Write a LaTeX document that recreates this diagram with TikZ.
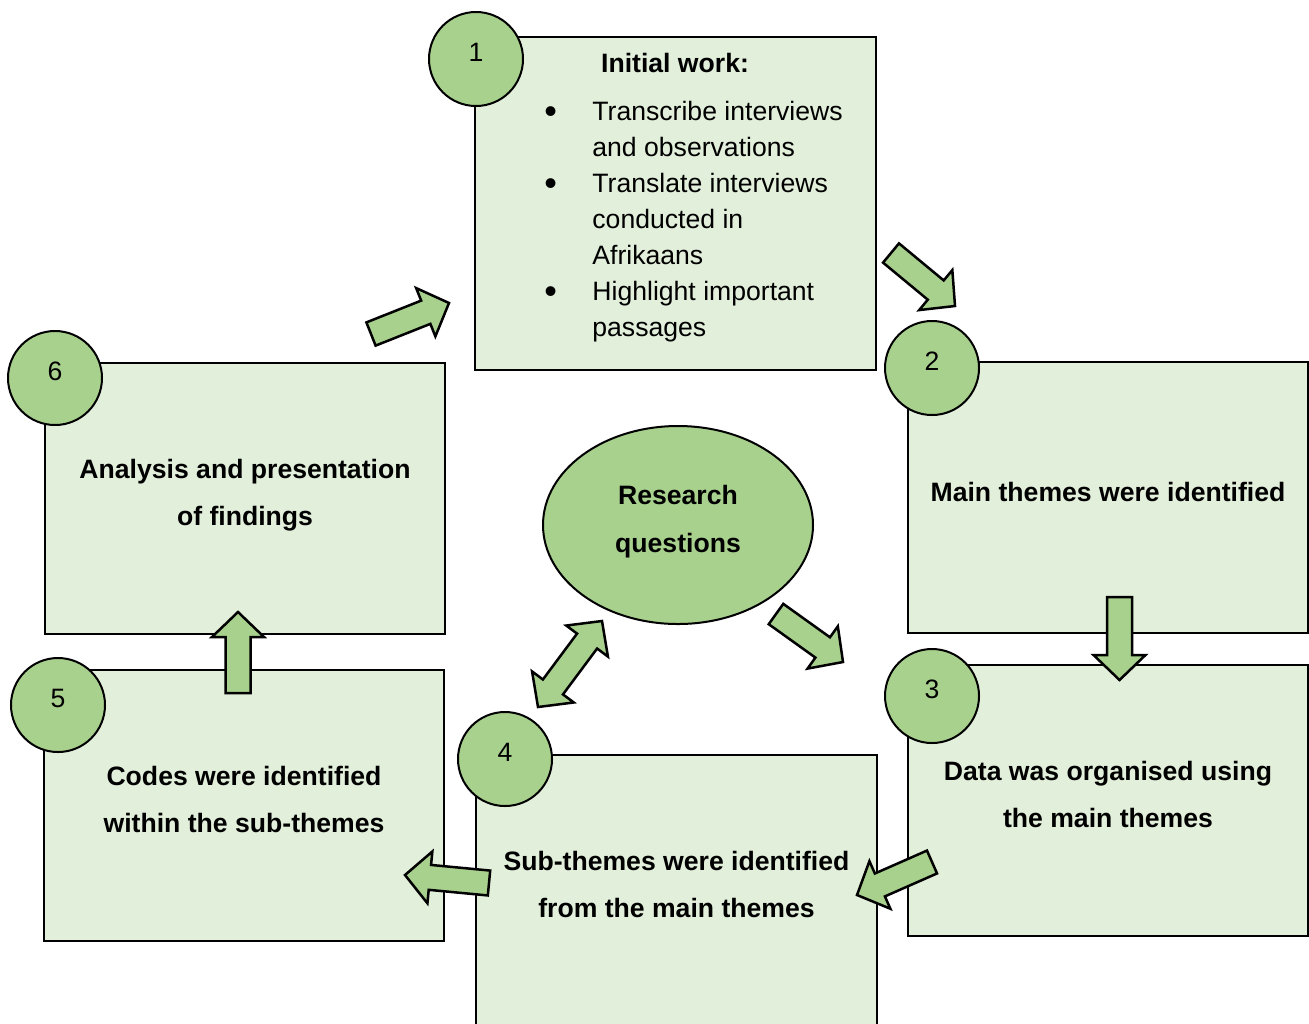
\documentclass[tikz,border=0pt]{standalone}
\usepackage{fontspec}
\setmainfont{Liberation Sans}
\usetikzlibrary{positioning, shapes.geometric, calc}
\definecolor{boxgreen}{HTML}{E2EFDA}
\definecolor{leafgreen}{HTML}{A9D18E}
\tikzset{
  stagebox/.style={
    draw,
    rectangle,
    line width=1pt,
    fill=boxgreen,
    minimum width=200pt,
    minimum height=135.5pt,
    align=center,
    text depth=6pt,
    font=\fontsize{13.3}{23.5}\selectfont\bfseries
  },
  numcircle/.style={
    draw,
    circle,
    line width=1pt,
    fill=leafgreen,
    minimum size=47pt,
    inner sep=0pt,
    text depth=7pt,
    font=\fontsize{13.3}{16}\selectfont
  },
  barrow/.style={
    draw,
    line width=1.25pt,
    fill=leafgreen,
    line join=miter
  },
  listtext/.style={
    align=left,
    inner sep=0pt,
    font=\fontsize{13.3}{18}\selectfont
  }
}
\newcommand{\listdot}{\llap{\raisebox{-1.6pt}{\fontsize{18}{18}\selectfont\textbullet}\hspace{17.7pt}}}
\newcommand{\blockarrow}[2]{%
  \coordinate (ba-h) at ($(#2)!12.5pt!(#1)$);
  \draw[barrow] ($(#1)!6.25pt!90:(#2)$) -- ($(ba-h)!6.25pt!-90:(#1)$)
    -- ($(ba-h)!13pt!-90:(#1)$) -- (#2) -- ($(ba-h)!13pt!90:(#1)$)
    -- ($(ba-h)!6.25pt!90:(#1)$) -- ($(#1)!6.25pt!-90:(#2)$) -- cycle;
}
\newcommand{\blockarrowtwo}[2]{%
  \coordinate (ba-h) at ($(#2)!12.5pt!(#1)$);
  \coordinate (ba-g) at ($(#1)!12.5pt!(#2)$);
  \draw[barrow] (#1) -- ($(ba-g)!13pt!90:(#2)$) -- ($(ba-g)!6.25pt!90:(#2)$)
    -- ($(ba-h)!6.25pt!-90:(#1)$) -- ($(ba-h)!13pt!-90:(#1)$) -- (#2)
    -- ($(ba-h)!13pt!90:(#1)$) -- ($(ba-h)!6.25pt!90:(#1)$)
    -- ($(ba-g)!6.25pt!-90:(#2)$) -- ($(ba-g)!13pt!-90:(#2)$) -- cycle;
}

\begin{document}
\begin{tikzpicture}[x=0.5pt, y=-0.5pt]
    \useasboundingbox (0,0) rectangle (1309,1023);

    % stage boxes
    \node[stagebox, minimum width=200.5pt, minimum height=166.5pt] (box1) at (675.5,203.5) {};
    \node[stagebox] (box2) at (1108,497.5) {Main themes were identified};
    \node[stagebox] (box3) at (1108,800.5) {Data was organised using\\the main themes};
    \node[stagebox, minimum width=200.5pt] (box4) at (676.5,890.5) {Sub-themes were identified\\from the main themes};
    \node[stagebox] (box5) at (244,805.5) {Codes were identified\\within the sub-themes};
    \node[stagebox] (box6) at (245,498.5) {Analysis and presentation\\of findings};

    \node[font=\fontsize{13.3}{16}\selectfont\bfseries] (title) at (675,63) {Initial work:};
    \node[listtext, anchor=north west] (worklist) at (592,101) {%
      \listdot Transcribe interviews\\
      and observations\\
      \listdot Translate interviews\\
      conducted in\\
      Afrikaans\\
      \listdot Highlight important\\
      passages};

    \node[draw, ellipse, line width=1pt, fill=leafgreen, minimum width=135pt, minimum height=99pt,
      align=center, text depth=6pt, font=\fontsize{13.3}{24}\selectfont\bfseries] (rq) at (678,525) {Research\\questions};

    % numbers
    \node[numcircle] (n1) at (476,59) {1};
    \node[numcircle] (n2) at (932,368) {2};
    \node[numcircle] (n3) at (932,696) {3};
    \node[numcircle] (n4) at (505,759) {4};
    \node[numcircle] (n5) at (58,705) {5};
    \node[numcircle] (n6) at (55,378) {6};

    % arrow ends
    \coordinate (a61s) at (371,334);   \coordinate (a61e) at (449,303);
    \coordinate (a12s) at (891,253);   \coordinate (a12e) at (955,306);
    \coordinate (a23s) at (1119.5,597); \coordinate (a23e) at (1119.5,680);
    \coordinate (a34s) at (932,862);   \coordinate (a34e) at (857,895);
    \coordinate (a45s) at (489,883);   \coordinate (a45e) at (405,875);
    \coordinate (a56s) at (238,693);   \coordinate (a56e) at (238,612);
    \coordinate (aq3s) at (776,614);   \coordinate (aq3e) at (843,662);
    \coordinate (aq4s) at (538,707);   \coordinate (aq4e) at (602,621);

    \blockarrow{a61s}{a61e}
    \blockarrow{a12s}{a12e}
    \blockarrow{a23s}{a23e}
    \blockarrow{a34s}{a34e}
    \blockarrow{a45s}{a45e}
    \blockarrow{a56s}{a56e}
    \blockarrow{aq3s}{aq3e}
    \blockarrowtwo{aq4s}{aq4e}
\end{tikzpicture}
\end{document}
